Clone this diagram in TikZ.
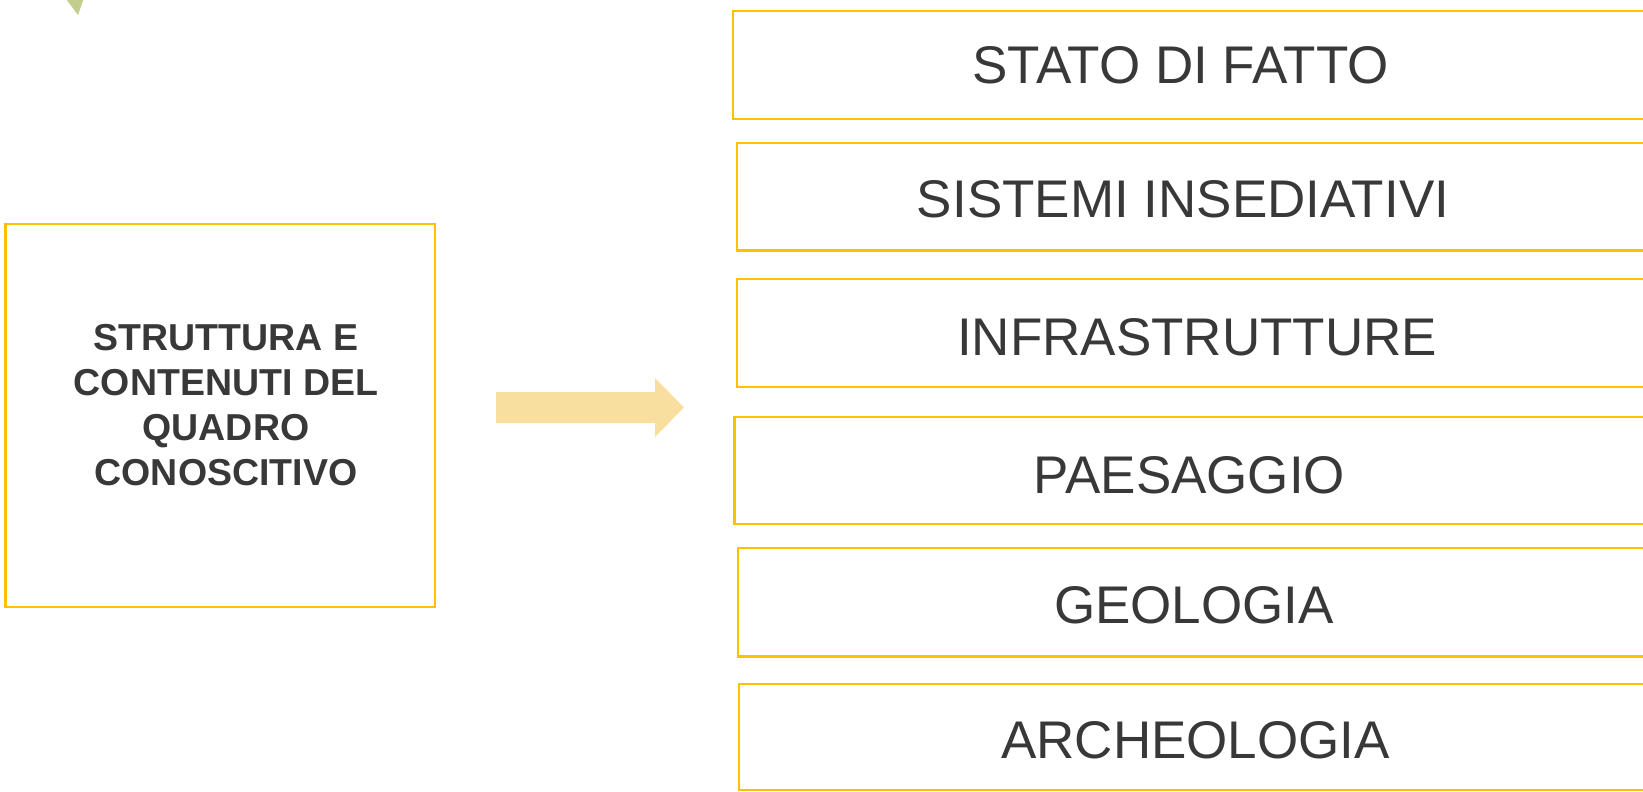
\documentclass[tikz,border=0pt]{standalone}
\usepackage{fontspec}
\setmainfont{Liberation Sans}
\definecolor{gold}{HTML}{FFC000}
\definecolor{txt}{HTML}{383838}
\definecolor{arrowfill}{HTML}{F8DFA0}
\definecolor{leaf}{HTML}{C5CD8C}
\begin{document}
\begin{tikzpicture}[x=1pt,y=-1pt,
  boxline/.style={draw=gold,line width=2.5pt,outer sep=0pt,anchor=north west},
  itemtext/.style={anchor=base,inner sep=0pt,text=txt,font=\fontsize{53}{60}\selectfont},
  maintext/.style={inner sep=0pt,text=txt,align=center,font=\bfseries\fontsize{37.5}{45}\selectfont}]
\useasboundingbox (0,0) rectangle (1643,792);
\clip (0,0) rectangle (1643,792);
% green leaf fragment
\fill[leaf] (63,-5) -- (85,-5) -- (78,15) -- cycle;
% left box
\node[boxline,minimum width=429.3pt,minimum height=383pt] (main) at (5.7,224) {};
\node[maintext] (maintxt) at (226,405) {STRUTTURA E\\CONTENUTI DEL\\QUADRO\\CONOSCITIVO};
% block arrow
\fill[arrowfill] (496,392) -- (655,392) -- (655,378) -- (684,407.5) -- (655,437) -- (655,423) -- (496,423) -- cycle;
% right boxes
\node[boxline,minimum width=1000pt,minimum height=108pt] (b1) at (733,11) {};
\node[boxline,minimum width=1000pt,minimum height=107.5pt] (b2) at (737,143) {};
\node[boxline,minimum width=1000pt,minimum height=108pt] (b3) at (737,279) {};
\node[boxline,minimum width=1000pt,minimum height=107pt] (b4) at (734.5,417) {};
\node[boxline,minimum width=1000pt,minimum height=108.5pt] (b5) at (738,548) {};
\node[boxline,minimum width=1000pt,minimum height=106pt] (b6) at (739,684) {};
\node[itemtext] (t1) at (1180.5,83) {STATO DI FATTO};
\node[itemtext] (t2) at (1183,217) {SISTEMI INSEDIATIVI};
\node[itemtext] (t3) at (1197,355) {INFRASTRUTTURE};
\node[itemtext] (t4) at (1189.5,493) {PAESAGGIO};
\node[itemtext] (t5) at (1194,623) {GEOLOGIA};
\node[itemtext] (t6) at (1195.5,758) {ARCHEOLOGIA};
\end{tikzpicture}
\end{document}
